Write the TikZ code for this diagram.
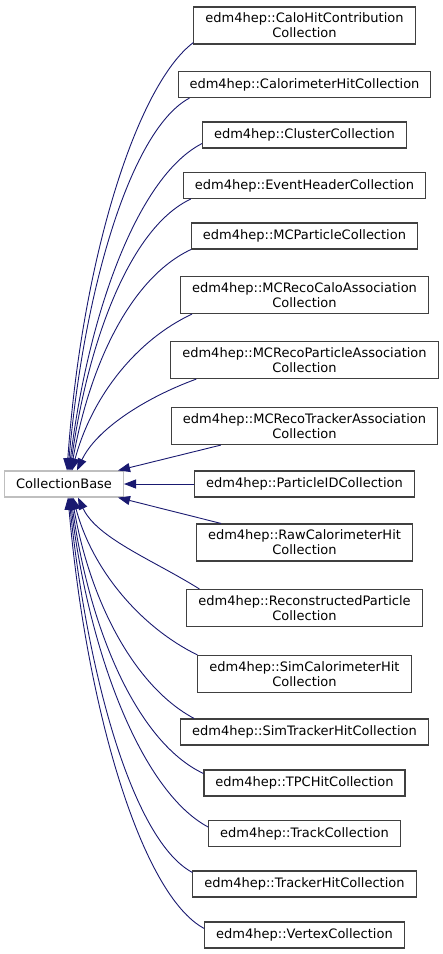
\documentclass[tikz,border=0pt]{standalone}
\usepackage{fontspec}
\setmainfont{DejaVu Sans}
\usepackage{xcolor}
\usetikzlibrary{arrows.meta}
\definecolor{edge}{HTML}{191970}
\definecolor{frame}{HTML}{404040}
\definecolor{basefr}{HTML}{BFBFBF}

\begin{document}
\begin{tikzpicture}[
  x=1pt, y=1pt,
  font=\fontsize{13}{15}\selectfont,
  cls/.style={rectangle, draw=frame, fill=white, line width=1.1pt, align=center,
    inner xsep=11.5pt, inner ysep=6pt, minimum height=26pt},
  basecls/.style={cls, draw=basefr},
  inh/.style={draw=edge, line width=0.9pt, {Triangle[length=12pt, width=9pt]}-}
]
  \useasboundingbox (0,0) rectangle (443,-954);
  % base class
  \node[basecls] (base) at (64,-484) {CollectionBase};
  % derived classes
  \foreach \n/\txt/\y in {
      1/{edm4hep::CaloHitContribution\\Collection}/25.5,
      2/{edm4hep::CalorimeterHitCollection}/84.5,
      3/{edm4hep::ClusterCollection}/135,
      4/{edm4hep::EventHeaderCollection}/185.5,
      5/{edm4hep::MCParticleCollection}/236,
      6/{edm4hep::MCRecoCaloAssociation\\Collection}/295,
      7/{edm4hep::MCRecoParticleAssociation\\Collection}/360,
      8/{edm4hep::MCRecoTrackerAssociation\\Collection}/426,
      9/{edm4hep::ParticleIDCollection}/484,
      10/{edm4hep::RawCalorimeterHit\\Collection}/542.5,
      11/{edm4hep::ReconstructedParticle\\Collection}/608,
      12/{edm4hep::SimCalorimeterHit\\Collection}/674,
      13/{edm4hep::SimTrackerHitCollection}/732,
      14/{edm4hep::TPCHitCollection}/783,
      15/{edm4hep::TrackCollection}/833.5,
      16/{edm4hep::TrackerHitCollection}/884,
      17/{edm4hep::VertexCollection}/935} {
    \node[cls] (sub\n) at (304.5,-\y) {\txt};
  }
  % inheritance arrows, upper group
  \draw[inh] ([xshift=3pt]base.north) .. controls +(86:214) and +(217:70) .. ([yshift=2pt]sub1.south west);
  \draw[inh] ([xshift=4pt]base.north) .. controls +(85:187) and +(208:65) .. ([xshift=12pt]sub2.south west);
  \draw[inh] ([xshift=5pt]base.north) .. controls +(83:164) and +(207:70) .. ([yshift=5pt]sub3.south west);
  \draw[inh] ([xshift=6pt]base.north) .. controls +(82:136) and +(205:65) .. ([xshift=8pt]sub4.south west);
  \draw[inh] ([xshift=7pt]base.north) .. controls +(80:110) and +(205:65) .. (sub5.south west);
  \draw[inh] ([xshift=8pt]base.north) .. controls +(75:78) and +(205:60) .. ([xshift=12pt]sub6.south west);
  \draw[inh] ([xshift=13pt]base.north) .. controls +(65:45) and +(200:55) .. ([xshift=26pt]sub7.south west);
  \draw[inh] ([xshift=-6pt]base.north east) -- ([xshift=50pt]sub8.south west);
  \draw[inh] (base.east) -- (sub9.west);
  % lower group
  \draw[inh] ([xshift=-6pt]base.south east) -- ([xshift=25pt]sub10.north west);
  \draw[inh] ([xshift=14pt]base.south) .. controls +(295:45) and +(148:55) .. ([xshift=13pt]sub11.north west);
  \draw[inh] ([xshift=9pt]base.south) .. controls +(285:78) and +(154:60) .. (sub12.north west);
  \draw[inh] ([xshift=8pt]base.south) .. controls +(280:110) and +(152:65) .. ([xshift=14pt]sub13.north west);
  \draw[inh] ([xshift=7pt]base.south) .. controls +(278:140) and +(155:70) .. ([yshift=-4pt]sub14.north west);
  \draw[inh] ([xshift=6pt]base.south) .. controls +(277:165) and +(152:72) .. ([yshift=-7pt]sub15.north west);
  \draw[inh] ([xshift=5pt]base.south) .. controls +(276:188) and +(152:65) .. ([yshift=-2pt]sub16.north west);
  \draw[inh] ([xshift=4pt]base.south) .. controls +(275:216) and +(152:70) .. ([yshift=-7pt]sub17.north west);
\end{tikzpicture}
\end{document}
